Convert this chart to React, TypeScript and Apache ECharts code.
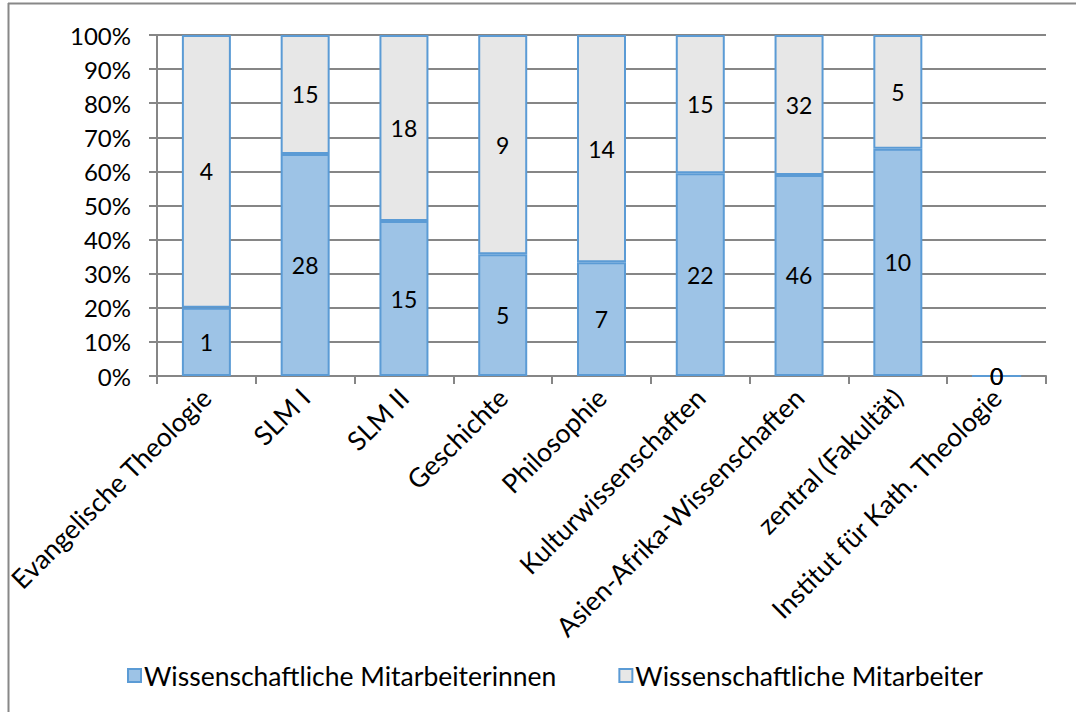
import React, { useEffect, useRef } from "react";
import * as echarts from "echarts";

const categories = [
  "Evangelische Theologie",
  "SLM I",
  "SLM II",
  "Geschichte",
  "Philosophie",
  "Kulturwissenschaften",
  "Asien-Afrika-Wissenschaften",
  "zentral (Fakultät)",
  "Institut für Kath. Theologie",
];
const femaleCounts = [1, 28, 15, 5, 7, 22, 46, 10, 0];
const maleCounts = [4, 15, 18, 9, 14, 15, 32, 5, 0];
const seriesNames = ["Wissenschaftliche Mitarbeiterinnen", "Wissenschaftliche Mitarbeiter"];

const share = (a: number[], b: number[]) =>
  a.map((v, i) => (a[i] + b[i] === 0 ? 0 : (v / (a[i] + b[i])) * 100));

export default function App() {
  const ref = useRef<HTMLDivElement>(null);
  useEffect(() => {
    if (!ref.current) return;
    const chart = echarts.init(ref.current, null, { renderer: "svg" });
    const font = "Lato, 'Open Sans', sans-serif";
    const femalePct = share(femaleCounts, maleCounts);
    const malePct = share(maleCounts, femaleCounts);
    const labelStyle = (counts: number[]) => ({
      show: true,
      position: "inside" as const,
      color: "#000",
      fontSize: 23,
      fontFamily: font,
      formatter: (p: any) => String(counts[p.dataIndex]),
    });
    chart.setOption({
      animation: false,
      textStyle: { fontFamily: font },
      grid: { left: 157, right: 30, top: 35, bottom: 336 },
      graphic: [
        { type: "line", shape: { x1: 8.5, y1: 3, x2: 8.5, y2: 712 }, style: { stroke: "#888", lineWidth: 2 } },
        { type: "line", shape: { x1: 8, y1: 3.5, x2: 1076, y2: 3.5 }, style: { stroke: "#888", lineWidth: 2 } },
      ],
      legend: {
        bottom: 18,
        left: 122,
        itemWidth: 13,
        itemHeight: 13,
        itemGap: 62,
        icon: "rect",
        textStyle: { fontSize: 26.5, color: "#000", fontFamily: font, padding: [0, 0, 0, -2] },
        data: seriesNames,
      },
      xAxis: {
        type: "category",
        data: categories,
        axisLine: { lineStyle: { color: "#868686", width: 2 } },
        axisTick: { show: true, length: 8, lineStyle: { color: "#868686", width: 2 } },
        axisLabel: { rotate: 45, fontSize: 26.5, color: "#000", margin: 17, fontFamily: font, interval: 0 },
      },
      yAxis: {
        type: "value",
        min: 0,
        max: 100,
        interval: 10,
        axisLine: { show: true, lineStyle: { color: "#868686", width: 2 } },
        axisTick: { show: true, length: 8, lineStyle: { color: "#868686", width: 2 } },
        splitLine: { lineStyle: { color: "#868686", width: 2 } },
        axisLabel: { fontSize: 24, color: "#000", margin: 26, fontFamily: font, formatter: "{value}%" },
      },
      series: [
        {
          name: seriesNames[0],
          type: "bar",
          stack: "total",
          barWidth: 49,
          data: femalePct,
          itemStyle: { color: "#9dc3e6", borderColor: "#5b9bd5", borderWidth: 2 },
          label: labelStyle(femaleCounts),
        },
        {
          name: seriesNames[1],
          type: "bar",
          stack: "total",
          barWidth: 49,
          data: malePct,
          itemStyle: { color: "#e7e7e7", borderColor: "#5b9bd5", borderWidth: 2 },
          label: labelStyle(maleCounts),
        },
      ],
    });
    return () => chart.dispose();
  }, []);
  return (
    <div
      ref={ref}
      style={{ position: "absolute", left: 0, top: 0, width: 1076, height: 712, background: "#fff" }}
    />
  );
}
